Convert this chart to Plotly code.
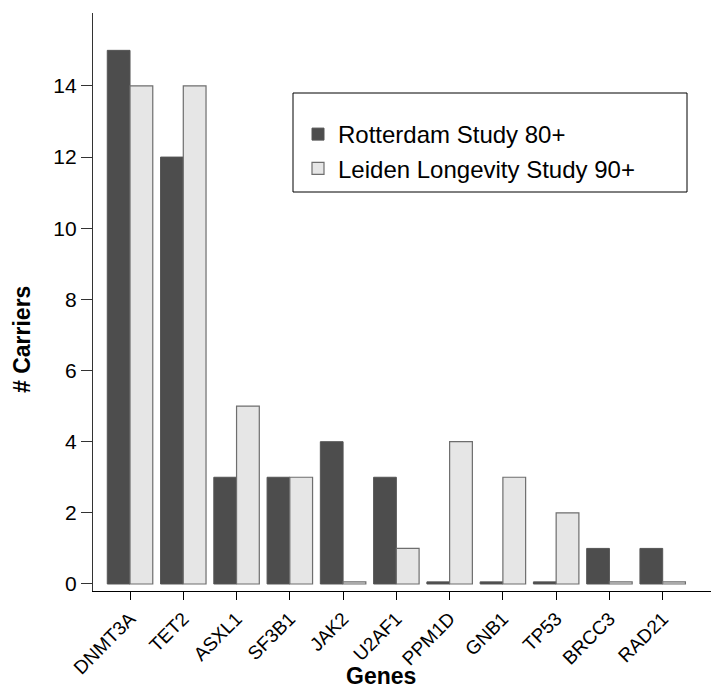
import plotly.graph_objects as go

genes = ["DNMT3A", "TET2", "ASXL1", "SF3B1", "JAK2", "U2AF1", "PPM1D", "GNB1", "TP53", "BRCC3", "RAD21"]
rotterdam = [15, 12, 3, 3, 4, 3, 0, 0, 0, 1, 1]
leiden = [14, 14, 5, 3, 0, 1, 4, 3, 2, 0, 0]
y_ticks = [0, 2, 4, 6, 8, 10, 12, 14]

# zero-count bars are drawn as a thin sliver, as in the original
ZERO_SLIVER = 0.06
def shown(vals):
    return [v if v > 0 else ZERO_SLIVER for v in vals]

FONT = "Liberation Sans, Arial, sans-serif"
W, H = 714, 691
ML, MR, MT, MB = 93, 3, 13, 100
PW, PH = W - ML - MR, H - MT - MB

def px_x(p):
    return (p - ML) / PW

def px_y(p):
    return (H - MB - p) / PH

fig = go.Figure()
fig.add_trace(go.Bar(
    x=list(range(len(genes))), y=shown(rotterdam), name="Rotterdam Study 80+",
    marker=dict(color="#4d4d4d", line=dict(color="#555555", width=1)),
    customdata=rotterdam, hovertemplate="%{customdata}<extra></extra>",
))
fig.add_trace(go.Bar(
    x=list(range(len(genes))), y=shown(leiden), name="Leiden Longevity Study 90+",
    marker=dict(color="#e6e6e6", line=dict(color="#6e6e6e", width=1.2)),
    customdata=leiden, hovertemplate="%{customdata}<extra></extra>",
))

fig.update_layout(
    width=W, height=H,
    margin=dict(l=ML, r=MR, t=MT, b=MB, pad=0, autoexpand=False),
    paper_bgcolor="white", plot_bgcolor="white",
    barmode="group", bargap=0.146, bargroupgap=0,
    font=dict(family=FONT, color="black"),
    showlegend=True,
    legend=dict(
        x=px_x(298), y=px_y(112), xanchor="left", yanchor="top",
        bgcolor="rgba(0,0,0,0)", borderwidth=0,
        font=dict(size=24, family=FONT, color="black"),
        tracegroupgap=0,
    ),
    xaxis=dict(
        range=[-0.695, 10.907], automargin=False,
        tickmode="array", tickvals=list(range(len(genes))), ticktext=genes,
        tickangle=-45, tickfont=dict(size=19, family=FONT, color="black"),
        ticks="outside", ticklen=8, tickcolor="black", tickwidth=1,
        showline=True, linecolor="black", linewidth=1.3,
        showgrid=False, zeroline=False,
    ),
    yaxis=dict(
        range=[-0.197, 16.05], automargin=False,
        tickmode="array", tickvals=y_ticks,
        tickfont=dict(size=21, family=FONT, color="black"),
        ticks="outside", ticklen=11, tickcolor="#333333", tickwidth=1,
        showline=True, linecolor="#333333", linewidth=1.3,
        showgrid=False, zeroline=False,
    ),
    shapes=[dict(
        type="rect", xref="paper", yref="paper",
        x0=px_x(293), x1=px_x(687), y0=px_y(192), y1=px_y(93),
        line=dict(color="black", width=1), fillcolor="rgba(0,0,0,0)",
    )],
    annotations=[
        dict(text="<b># Carriers</b>", xref="paper", yref="paper",
             x=px_x(22), y=px_y(340), textangle=-90, showarrow=False,
             font=dict(size=23, family=FONT, color="black"),
             xanchor="center", yanchor="middle"),
        dict(text="<b>Genes</b>", xref="paper", yref="paper",
             x=px_x(381), y=px_y(676), showarrow=False,
             font=dict(size=23, family=FONT, color="black"),
             xanchor="center", yanchor="middle"),
    ],
)

fig.write_html("out.html", config={"displayModeBar": False},
               post_script="document.body.style.margin='0';")
